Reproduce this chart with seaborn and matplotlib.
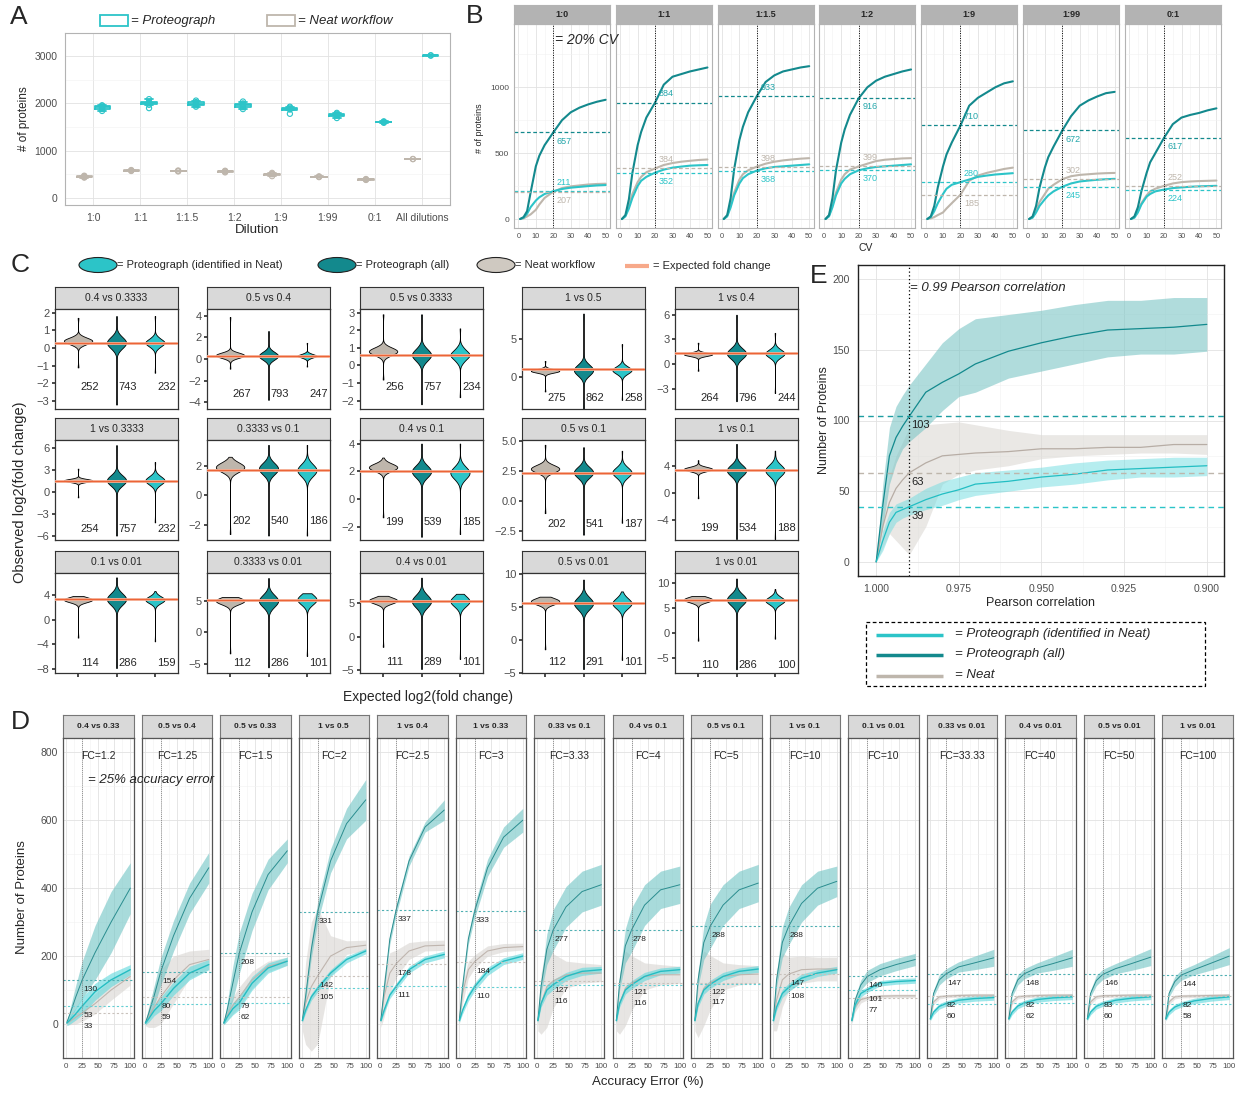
import numpy as np
import pandas as pd
import matplotlib
matplotlib.use("Agg")
import matplotlib.pyplot as plt
import seaborn as sns
from matplotlib.patches import Rectangle, Ellipse
from matplotlib.ticker import MultipleLocator

# ---------------- colours ----------------
ALL_COL = '#13898D'
IDENT_COL = '#2CC4C8'
NEAT_COL = '#BEB6AC'
FC_COL = '#EC6437'

# ---------------- panel A : proteins per dilution ----------------
A_DILUTIONS = ['1:0', '1:1', '1:1.5', '1:2', '1:9', '1:99', '0:1', 'All dilutions']
A_PROTEO = [[1840, 1880, 1905, 1925, 1950, 1960],
            [1900, 1970, 2000, 2010, 2030, 2090],
            [1930, 1960, 1985, 2000, 2030, 2060],
            [1880, 1920, 1950, 1970, 2000, 2040],
            [1780, 1870, 1890, 1910, 1930],
            [1690, 1740, 1760, 1780, 1800],
            [1590, 1600, 1610, 1620],
            [3010, 3020]]
A_NEAT = [[430, 440, 450, 460, 470],
          [570, 580, 590],
          [560, 570, 580],
          [540, 555, 565, 575],
          [460, 500, 510, 530],
          [440, 450, 455],
          [380, 390, 400],
          [820, 825]]

# ---------------- panel B : cumulative proteins vs CV ----------------
B_DIL = ['1:0', '1:1', '1:1.5', '1:2', '1:9', '1:99', '0:1']
B_CV = [1, 3, 5, 7, 10, 12, 15, 20, 25, 30, 35, 40, 45, 50]
B_ALL = [[0, 15, 60, 200, 400, 480, 560, 657, 750, 810, 845, 870, 890, 905],
         [0, 30, 150, 350, 560, 660, 770, 884, 1020, 1080, 1100, 1120, 1135, 1150],
         [0, 30, 160, 380, 600, 700, 810, 933, 1040, 1090, 1120, 1135, 1150, 1160],
         [0, 30, 160, 370, 580, 680, 790, 916, 1000, 1050, 1080, 1100, 1120, 1135],
         [0, 20, 100, 240, 400, 490, 580, 710, 860, 920, 960, 1000, 1030, 1045],
         [0, 20, 100, 240, 390, 470, 550, 672, 780, 860, 900, 930, 955, 965],
         [0, 20, 90, 210, 350, 430, 500, 617, 720, 770, 790, 805, 825, 840]]
B_IDENT = [[0, 10, 40, 90, 140, 165, 190, 211, 228, 238, 244, 250, 255, 258],
           [0, 20, 80, 160, 250, 290, 320, 352, 375, 390, 398, 405, 408, 410],
           [0, 20, 90, 180, 270, 310, 340, 368, 385, 395, 400, 405, 410, 415],
           [0, 20, 90, 180, 270, 305, 340, 370, 385, 395, 400, 405, 410, 415],
           [0, 15, 60, 120, 190, 230, 260, 280, 300, 320, 330, 338, 343, 348],
           [0, 10, 50, 100, 150, 180, 210, 245, 270, 285, 292, 298, 302, 305],
           [0, 10, 50, 110, 170, 190, 210, 224, 235, 240, 245, 248, 250, 252]]
B_NEAT = [[0, 5, 20, 35, 70, 110, 160, 207, 235, 248, 255, 262, 266, 268],
          [0, 25, 100, 190, 280, 320, 355, 384, 410, 425, 435, 442, 448, 452],
          [0, 25, 110, 200, 300, 340, 370, 398, 420, 435, 445, 452, 458, 462],
          [0, 25, 110, 200, 300, 340, 375, 399, 420, 440, 450, 455, 460, 462],
          [0, 5, 15, 30, 50, 80, 120, 185, 290, 330, 350, 365, 380, 390],
          [0, 15, 70, 130, 190, 230, 260, 302, 325, 335, 340, 345, 348, 350],
          [0, 15, 60, 120, 180, 210, 230, 252, 270, 280, 285, 288, 290, 292]]
B_CUT_ALL = [657, 884, 933, 916, 710, 672, 617]
B_CUT_IDENT = [211, 352, 368, 370, 280, 245, 224]
B_CUT_NEAT = [207, 384, 398, 399, 185, 302, 252]
B_SIDE_ALL = [-1, 1, 1, -1, 1, -1, -1]
B_SIDE_IDENT = [1, -1, -1, -1, 1, -1, -1]
B_SIDE_NEAT = [-1, 1, 1, 1, -1, 1, 1]

# ---------------- panel C : observed vs expected log2 FC ----------------
C_PAIRS = ['0.4 vs 0.3333', '0.5 vs 0.4', '0.5 vs 0.3333', '1 vs 0.5', '1 vs 0.4',
           '1 vs 0.3333', '0.3333 vs 0.1', '0.4 vs 0.1', '0.5 vs 0.1', '1 vs 0.1',
           '0.1 vs 0.01', '0.3333 vs 0.01', '0.4 vs 0.01', '0.5 vs 0.01', '1 vs 0.01']
C_EXPECTED = [0.26, 0.32, 0.58, 1.0, 1.32, 1.58, 1.74, 2.0, 2.32, 3.32, 3.32, 5.06, 5.32, 5.64, 6.64]
C_NEAT_LO = [-1.1, -0.9, -0.8, -1.9, -0.8, -0.7, -2.6, -1.3, -1.0, -0.8, -2.9, -3.3, -1.5, -1.4, -1.5]
C_NEAT_MODE = [0.4, 0.35, 0.8, 0.8, 1.2, 1.6, 1.9, 2.3, 2.7, 3.5, 3.2, 5.0, 5.4, 5.9, 6.7]
C_NEAT_HI = [1.7, 3.9, 2.9, 2.1, 2.6, 3.2, 2.6, 3.0, 4.7, 4.8, 3.8, 5.6, 6.1, 6.6, 7.4]
C_NEAT_BODY = [0.2, 0.1, 0.2, 0.2, 0.2, 0.15, 0.2, 0.2, 0.25, 0.2, 0.2, 0.25, 0.25, 0.25, 0.25]
C_ALL_LO = [-3.2, -3.8, -2.2, -4.2, -4.5, -5.9, -2.7, -2.7, -2.8, -6.8, -7.8, -5.5, -4.8, -4.4, -7.2]
C_ALL_MODE = [0.3, 0.3, 0.6, 0.9, 1.3, 1.6, 1.8, 2.0, 2.4, 3.3, 3.3, 5.0, 5.3, 5.6, 6.7]
C_ALL_HI = [1.8, 2.6, 2.9, 8.3, 6.0, 6.4, 3.4, 4.0, 4.5, 7.2, 6.8, 8.6, 8.8, 9.2, 10.9]
C_ALL_BODY = [0.3, 0.3, 0.35, 0.6, 0.6, 0.6, 0.35, 0.4, 0.4, 0.6, 0.8, 0.9, 0.9, 0.9, 0.9]
C_IDENT_LO = [-1.4, -0.7, -1.8, -3.0, -3.5, -4.1, -2.7, -2.5, -1.8, -6.8, -3.5, -3.7, -3.3, -3.0, -1.1]
C_IDENT_MODE = [0.3, 0.3, 0.6, 0.9, 1.3, 1.6, 1.7, 1.9, 2.4, 3.3, 3.2, 5.2, 5.3, 5.6, 6.5]
C_IDENT_HI = [1.8, 1.5, 2.1, 4.3, 3.8, 4.1, 3.4, 4.0, 4.2, 6.2, 4.6, 6.2, 6.4, 7.4, 8.8]
C_IDENT_BODY = [0.25, 0.2, 0.35, 0.5, 0.5, 0.6, 0.4, 0.45, 0.45, 0.7, 0.5, 0.8, 0.8, 0.8, 0.8]
C_N_NEAT = [252, 267, 256, 275, 264, 254, 202, 199, 202, 199, 114, 112, 111, 112, 110]
C_N_ALL = [743, 793, 757, 862, 796, 757, 540, 539, 541, 534, 286, 286, 289, 291, 286]
C_N_IDENT = [232, 247, 234, 258, 244, 232, 186, 185, 187, 188, 159, 101, 101, 101, 100]
C_YLIM = [(-3.45, 2.2), (-4.65, 4.65), (-2.47, 3.2), (-4.2, 8.9), (-5.45, 6.7),
          (-6.5, 7.1), (-3.0, 3.73), (-2.93, 4.26), (-3.24, 5.1), (-6.94, 7.77),
          (-8.6, 7.5), (-6.4, 9.4), (-5.4, 9.5), (-5.0, 10.2), (-7.95, 12.0)]
C_YTICKS = [[-3, -2, -1, 0, 1, 2], [-4, -2, 0, 2, 4], [-2, -1, 0, 1, 2, 3], [0, 5], [-3, 0, 3, 6],
            [-6, -3, 0, 3, 6], [-2, 0, 2], [-2, 0, 2, 4], [-2.5, 0, 2.5, 5], [-4, 0, 4],
            [-8, -4, 0, 4], [-5, 0, 5], [-5, 0, 5], [-5, 0, 5, 10], [-5, 0, 5, 10]]
C_COUNT_Y = [-2.2, -3.3, -1.2, -2.8, -4.15, -5.0, -1.73, -1.67, -1.87, -5.24,
             -7.0, -4.8, -3.75, -3.3, -6.4]

# ---------------- panel E : proteins vs Pearson correlation ----------------
E_R = [1.000, 0.998, 0.996, 0.994, 0.992, 0.990, 0.985, 0.980, 0.975, 0.970,
       0.960, 0.950, 0.940, 0.930, 0.920, 0.910, 0.900]
E_ALL = [0, 40, 75, 88, 96, 103, 120, 127, 133, 140, 149, 155, 160, 164, 165, 166, 168]
E_ALL_LO = [0, 25, 55, 70, 80, 85, 95, 107, 117, 120, 130, 135, 140, 145, 147, 147, 149]
E_ALL_HI = [0, 55, 95, 110, 118, 125, 140, 155, 165, 172, 175, 178, 182, 185, 185, 187, 187]
E_NEAT = [0, 25, 42, 52, 58, 63, 70, 75, 76, 77, 78, 80, 80, 81, 81, 83, 83]
E_NEAT_LO = [0, 10, 20, 15, 10, 5, 25, 55, 62, 65, 68, 73, 75, 76, 77, 77, 76]
E_NEAT_HI = [0, 40, 60, 75, 85, 95, 97, 98, 99, 97, 93, 90, 90, 90, 90, 90, 90]
E_IDENT = [0, 15, 28, 35, 37, 39, 44, 48, 51, 55, 57, 60, 62, 65, 66, 67, 68]
E_IDENT_LO = [0, 8, 20, 28, 31, 33, 37, 40, 44, 47, 50, 53, 55, 58, 60, 60, 61]
E_IDENT_HI = [0, 22, 35, 41, 43, 45, 52, 57, 60, 63, 65, 67, 70, 72, 73, 74, 74]
E_CUTS = [103, 63, 39]

# ---------------- panel D : proteins vs accuracy error ----------------
D_PAIRS = ['0.4 vs 0.33', '0.5 vs 0.4', '0.5 vs 0.33', '1 vs 0.5', '1 vs 0.4', '1 vs 0.33',
           '0.33 vs 0.1', '0.4 vs 0.1', '0.5 vs 0.1', '1 vs 0.1', '0.1 vs 0.01', '0.33 vs 0.01',
           '0.4 vs 0.01', '0.5 vs 0.01', '1 vs 0.01']
D_FC = ['1.2', '1.25', '1.5', '2', '2.5', '3', '3.33', '4', '5', '10', '10', '33.33', '40', '50', '100']
D_ERR = [1, 6, 15, 25, 45, 70, 100]
D_ALL = [[5, 30, 80, 130, 210, 300, 400], [3, 30, 85, 154, 260, 370, 460],
         [3, 40, 120, 208, 330, 440, 510], [10, 80, 220, 331, 480, 590, 660],
         [10, 100, 250, 337, 480, 580, 630], [10, 110, 250, 333, 460, 550, 600],
         [10, 110, 220, 277, 345, 390, 410], [10, 120, 230, 278, 350, 395, 410],
         [10, 130, 240, 288, 350, 395, 415], [10, 130, 240, 288, 355, 400, 420],
         [10, 70, 115, 140, 160, 175, 190], [15, 90, 130, 147, 168, 180, 195],
         [15, 90, 130, 148, 165, 178, 195], [15, 90, 128, 146, 163, 178, 197],
         [15, 90, 125, 144, 160, 178, 200]]
D_ALL_HW = [[5, 15, 35, 55, 80, 90, 75], [5, 15, 30, 40, 45, 45, 45],
            [5, 20, 50, 60, 55, 45, 35], [5, 15, 25, 30, 35, 45, 60],
            [5, 10, 15, 15, 15, 15, 30], [5, 10, 15, 20, 25, 30, 35],
            [10, 20, 45, 60, 60, 60, 60], [10, 20, 50, 65, 60, 55, 55],
            [10, 20, 50, 65, 60, 55, 55], [10, 20, 45, 55, 55, 50, 45],
            [5, 10, 15, 18, 18, 18, 18], [5, 10, 15, 15, 15, 20, 25],
            [5, 10, 15, 15, 15, 20, 25], [5, 10, 15, 15, 15, 20, 25],
            [5, 10, 15, 15, 15, 20, 25]]
D_NEAT = [[2, 8, 20, 33, 60, 100, 140], [3, 20, 50, 80, 130, 175, 190],
          [3, 25, 55, 79, 130, 170, 185], [10, 60, 110, 142, 200, 225, 232],
          [10, 80, 150, 178, 215, 230, 232], [10, 90, 160, 184, 215, 225, 228],
          [10, 60, 110, 127, 145, 150, 150], [10, 60, 105, 121, 140, 145, 145],
          [10, 60, 105, 122, 140, 145, 147], [10, 70, 130, 147, 160, 162, 162],
          [10, 50, 72, 77, 82, 83, 83], [15, 65, 80, 82, 84, 85, 85],
          [15, 65, 80, 82, 84, 85, 85], [15, 65, 80, 83, 84, 85, 85],
          [15, 65, 80, 82, 83, 84, 85]]
D_NEAT_HW = [[5, 10, 20, 25, 30, 30, 25], [8, 30, 60, 80, 70, 40, 30],
             [5, 15, 25, 30, 25, 15, 12], [30, 120, 190, 200, 60, 20, 15],
             [20, 60, 60, 40, 25, 15, 15], [10, 30, 25, 20, 15, 12, 10],
             [30, 90, 120, 80, 40, 30, 25], [30, 90, 110, 80, 40, 30, 25],
             [30, 100, 110, 80, 40, 30, 25], [30, 90, 80, 50, 40, 35, 35],
             [10, 15, 10, 6, 5, 5, 5], [5, 8, 6, 5, 5, 5, 5],
             [5, 8, 6, 5, 5, 5, 5], [5, 8, 6, 5, 5, 5, 5],
             [5, 8, 6, 5, 5, 5, 5]]
D_IDENT = [[3, 12, 30, 53, 95, 130, 160], [3, 15, 40, 59, 105, 150, 175],
           [3, 20, 45, 62, 120, 165, 185], [10, 40, 80, 105, 150, 190, 215],
           [10, 40, 85, 111, 160, 190, 205], [10, 40, 80, 110, 155, 185, 200],
           [10, 60, 100, 116, 140, 155, 160], [10, 60, 100, 116, 140, 155, 160],
           [10, 60, 100, 117, 140, 155, 162], [10, 50, 90, 108, 135, 150, 160],
           [10, 55, 90, 101, 120, 125, 128], [15, 35, 52, 60, 70, 75, 78],
           [15, 35, 53, 62, 72, 77, 80], [15, 35, 52, 60, 70, 76, 80],
           [15, 35, 50, 58, 68, 75, 80]]
D_IDENT_HW = [[8, 12, 18, 25, 25, 20, 15], [5, 10, 15, 20, 20, 20, 15],
              [5, 12, 18, 20, 20, 15, 12], [5, 8, 10, 10, 10, 10, 8],
              [5, 8, 10, 10, 10, 10, 10], [5, 10, 12, 12, 12, 10, 10],
              [5, 10, 15, 15, 12, 12, 10], [5, 10, 12, 12, 12, 10, 10],
              [5, 10, 12, 12, 12, 10, 10], [5, 10, 12, 12, 12, 10, 10],
              [5, 10, 10, 8, 8, 8, 8], [5, 8, 8, 8, 8, 8, 8],
              [5, 8, 8, 8, 8, 8, 8], [5, 8, 8, 8, 8, 8, 8],
              [5, 8, 8, 8, 8, 8, 8]]
D_CUT_ALL = [130, 154, 208, 331, 337, 333, 277, 278, 288, 288, 140, 147, 148, 146, 144]
D_CUT_NEAT = [33, 80, 79, 142, 178, 184, 127, 121, 122, 147, 77, 82, 82, 83, 82]
D_CUT_IDENT = [53, 59, 62, 105, 111, 110, 116, 116, 117, 108, 101, 60, 62, 60, 58]

# =====================================================================
sns.set_theme(style="white")
plt.rcParams['font.family'] = ['Liberation Sans', 'DejaVu Sans']
NARROW = ['Liberation Sans Narrow', 'Liberation Sans', 'DejaVu Sans']

W, H = 1236, 1093
fig = plt.figure(figsize=(W / 100, H / 100), dpi=100)


def px_axes(l, t, r, b):
    return fig.add_axes([l / W, 1 - b / H, (r - l) / W, (b - t) / H])


def strip(l, t, r, b, label, fc, ec, size, bold=False, family=None):
    sa = px_axes(l, t, r, b)
    sa.set_facecolor(fc)
    sa.set_xticks([])
    sa.set_yticks([])
    for s in sa.spines.values():
        s.set_color(ec)
        s.set_linewidth(0.8)
    sa.text(0.5, 0.5, label, ha='center', va='center', fontsize=size,
            fontweight='bold' if bold else 'normal', transform=sa.transAxes,
            family=family if family else plt.rcParams['font.family'])
    return sa


def light_axes(ax, edge='#B3B3B3', lw=0.8):
    ax.set_facecolor('white')
    for s in ax.spines.values():
        s.set_visible(True)
        s.set_color(edge)
        s.set_linewidth(lw)
    ax.grid(True, which='major', color='#E2E2E2', lw=0.6)
    ax.grid(True, which='minor', color='#F1F1F1', lw=0.4)
    ax.set_axisbelow(True)


# ---------------- A ----------------
axA = px_axes(65, 33, 450, 205)
rows = []
for d, vals in zip(A_DILUTIONS, A_PROTEO):
    rows += [(d, 'Proteograph', v) for v in vals]
for d, vals in zip(A_DILUTIONS, A_NEAT):
    rows += [(d, 'Neat', v) for v in vals]
dfA = pd.DataFrame(rows, columns=['dil', 'method', 'n'])
sns.boxplot(data=dfA, x='dil', y='n', hue='method', order=A_DILUTIONS,
            hue_order=['Neat', 'Proteograph'],
            palette={'Neat': NEAT_COL, 'Proteograph': IDENT_COL},
            fill=False, width=0.76, gap=0.15, linewidth=1.3, showfliers=False,
            legend=False, ax=axA)
for i in range(len(A_DILUTIONS)):
    axA.scatter([i + 0.19] * len(A_PROTEO[i]), A_PROTEO[i], s=14, facecolors='none',
                edgecolors=IDENT_COL, lw=0.8, zorder=3)
    axA.scatter([i - 0.19] * len(A_NEAT[i]), A_NEAT[i], s=14, facecolors='none',
                edgecolors=NEAT_COL, lw=0.8, zorder=3)
light_axes(axA)
axA.set_xlim(-0.6, 7.6)
axA.set_ylim(-150, 3490)
axA.set_yticks([0, 1000, 2000, 3000])
axA.yaxis.set_minor_locator(MultipleLocator(500))
axA.tick_params(axis='both', labelsize=7.5, labelcolor='#4D4D4D', length=2, color='#B3B3B3')
axA.set_xlabel('Dilution', fontsize=9.5, labelpad=1)
axA.set_ylabel('# of proteins', fontsize=8.5, labelpad=3)

# ---------------- B ----------------
for i, dil in enumerate(B_DIL):
    l = 514 + i * 101.8
    ax = px_axes(l, 24, l + 96, 228)
    strip(l, 5, l + 96, 24, dil, '#B3B3B3', '#B3B3B3', 6.5, bold=True)
    light_axes(ax)
    for vals, col in [(B_NEAT[i], NEAT_COL), (B_IDENT[i], IDENT_COL), (B_ALL[i], ALL_COL)]:
        sns.lineplot(x=B_CV, y=vals, color=col, lw=1.5, ax=ax)
    for cut, side, lcol, tcol in [(B_CUT_ALL[i], B_SIDE_ALL[i], ALL_COL, '#23A6AA'),
                                  (B_CUT_IDENT[i], B_SIDE_IDENT[i], IDENT_COL, IDENT_COL),
                                  (B_CUT_NEAT[i], B_SIDE_NEAT[i], NEAT_COL, NEAT_COL)]:
        ax.axhline(cut, color=lcol, lw=0.9, ls=(0, (3, 2)))
        ax.text(22, cut + 65 * side, str(cut), color=tcol, fontsize=6.5, ha='left', va='center')
    ax.axvline(20, color='black', ls=(0, (1, 1.5)), lw=0.7)
    ax.set_xlim(-2.5, 52.5)
    ax.set_ylim(-68, 1480)
    ax.set_xticks(range(0, 51, 10))
    ax.xaxis.set_minor_locator(MultipleLocator(5))
    ax.set_yticks([0, 500, 1000])
    ax.yaxis.set_minor_locator(MultipleLocator(250))
    ax.tick_params(axis='both', labelsize=5.3, labelcolor='#4D4D4D', length=2,
                   color='#B3B3B3', pad=1.5)
    ax.set_xlabel('')
    ax.set_ylabel('')
    if i > 0:
        ax.tick_params(axis='y', labelleft=False, length=0)
    else:
        ax.tick_params(axis='y', labelsize=6)

# ---------------- C ----------------
C_ORDER = ['Neat', 'All', 'Ident']
C_PAL = {'Neat': NEAT_COL, 'All': ALL_COL, 'Ident': IDENT_COL}
C_LEFT = [55, 207, 360, 522, 675]
C_TOP = [287, 418, 551]


def violin_sample(lo, mode, hi, body):
    return [lo, hi] + [mode] * 30 + [mode - body, mode + body] * 10


for k, pair in enumerate(C_PAIRS):
    r, c = divmod(k, 5)
    l, t = C_LEFT[c], C_TOP[r]
    strip(l, t, l + 123, t + 22, pair, '#D9D9D9', '#333333', 7.5, family=NARROW)
    ax = px_axes(l, t + 22, l + 123, t + 122)
    for names, wid in [(['Neat'], 0.74), (['All', 'Ident'], 0.5)]:
        vals, grp = [], []
        for name, lo, mo, hi, bd in [
                ('Neat', C_NEAT_LO[k], C_NEAT_MODE[k], C_NEAT_HI[k], C_NEAT_BODY[k]),
                ('All', C_ALL_LO[k], C_ALL_MODE[k], C_ALL_HI[k], C_ALL_BODY[k]),
                ('Ident', C_IDENT_LO[k], C_IDENT_MODE[k], C_IDENT_HI[k], C_IDENT_BODY[k])]:
            if name not in names:
                continue
            s = violin_sample(lo, mo, hi, bd)
            vals += s
            grp += [name] * len(s)
        dfC = pd.DataFrame({'grp': grp, 'val': vals})
        sns.violinplot(data=dfC, x='grp', y='val', hue='grp', order=C_ORDER, hue_order=names,
                       palette=C_PAL, cut=0, inner=None, density_norm='width', width=wid,
                       dodge=False, linewidth=0.6, linecolor='black', saturation=1,
                       legend=False, ax=ax)
    ax.axhline(C_EXPECTED[k], color='#F7B49A', lw=2.0, zorder=5)
    ax.axhline(C_EXPECTED[k], color=FC_COL, lw=0.9, zorder=6)
    for j, n in enumerate([C_N_NEAT[k], C_N_ALL[k], C_N_IDENT[k]]):
        ax.text(j + 0.3, C_COUNT_Y[k], str(n), ha='center', va='center', fontsize=8,
                family=NARROW, zorder=7)
    ax.set_xlim(-0.6, 2.6)
    ax.set_ylim(*C_YLIM[k])
    ticks = C_YTICKS[k]
    ax.set_yticks(ticks)
    if any(float(v) != int(v) for v in ticks):
        ax.set_yticklabels([f'{v:.1f}'.replace('-', '\u2212') for v in ticks])
    else:
        ax.set_yticklabels([f'{int(v)}'.replace('-', '\u2212') for v in ticks])
    ax.tick_params(axis='y', labelsize=8, labelcolor='#4D4D4D', length=2.5,
                   color='#333333', pad=1.5, left=True)
    for lab in ax.get_yticklabels():
        lab.set_family(NARROW)
    if r == 2:
        ax.tick_params(axis='x', labelbottom=False, length=3, color='#333333', bottom=True)
    else:
        ax.tick_params(axis='x', labelbottom=False, length=0)
    for s in ax.spines.values():
        s.set_visible(True)
        s.set_color('#333333')
        s.set_linewidth(0.9)
    ax.set_xlabel('')
    ax.set_ylabel('')

# ---------------- E ----------------
axE = px_axes(858, 265, 1224, 576)
axE.fill_between(E_R, E_NEAT_LO, E_NEAT_HI, color='#DCD9D5', alpha=0.6, lw=0)
axE.fill_between(E_R, E_ALL_LO, E_ALL_HI, color='#7CC6C6', alpha=0.6, lw=0)
axE.fill_between(E_R, E_IDENT_LO, E_IDENT_HI, color='#6FDCE0', alpha=0.5, lw=0)
sns.lineplot(x=E_R, y=E_NEAT, color='#B7ADA5', lw=0.9, ax=axE)
sns.lineplot(x=E_R, y=E_ALL, color='#12898D', lw=0.9, ax=axE)
sns.lineplot(x=E_R, y=E_IDENT, color='#22BEC3', lw=0.9, ax=axE)
for cut, col in zip(E_CUTS, ['#1C9DA1', NEAT_COL, IDENT_COL]):
    axE.axhline(cut, color=col, lw=1.0, ls=(0, (4, 3)))
    axE.text(0.9893, cut - 3, str(cut), fontsize=8, ha='left', va='top', color='#222222')
axE.axvline(0.99, color='black', ls=(0, (1, 2)), lw=0.9)
light_axes(axE, edge='#222222', lw=1.0)
axE.set_xlim(1.0055, 0.8948)
axE.set_ylim(-10, 210)
axE.set_xticks([1.0, 0.975, 0.95, 0.925, 0.9])
axE.set_xticklabels(['1.000', '0.975', '0.950', '0.925', '0.900'])
axE.xaxis.set_minor_locator(MultipleLocator(0.0125))
axE.set_yticks([0, 50, 100, 150, 200])
axE.yaxis.set_minor_locator(MultipleLocator(25))
axE.tick_params(axis='both', labelsize=7.5, labelcolor='#4D4D4D', length=2.5, color='#333333')
axE.set_xlabel('Pearson correlation', fontsize=9, labelpad=2)
axE.set_ylabel('Number of Proteins', fontsize=9, labelpad=2)

# ---------------- D ----------------
for i, pair in enumerate(D_PAIRS):
    l = 63 + i * 78.5
    strip(l, 715, l + 70.5, 738, pair, '#D9D9D9', '#777777', 6, bold=True)
    ax = px_axes(l, 738, l + 70.5, 1058)
    light_axes(ax, edge='#555555', lw=0.9)
    for mean, hw, band in [(D_NEAT[i], D_NEAT_HW[i], '#D8D5D1'),
                           (D_ALL[i], D_ALL_HW[i], '#6FC4C4'),
                           (D_IDENT[i], D_IDENT_HW[i], '#5ED8DC')]:
        m = np.array(mean)
        h = np.array(hw)
        ax.fill_between(D_ERR, m - h, m + h, color=band, alpha=0.6, lw=0)
    for mean, line, lw in [(D_NEAT[i], '#BFB5AE', 0.8), (D_ALL[i], '#2A8D8F', 0.7),
                           (D_IDENT[i], '#25BDC2', 1.0)]:
        sns.lineplot(x=D_ERR, y=mean, color=line, lw=lw, ax=ax)
    for cut, col in [(D_CUT_ALL[i], '#4FAFB2'), (D_CUT_NEAT[i], '#C9C2BC'), (D_CUT_IDENT[i], '#63CFD3')]:
        ax.axhline(cut, color=col, lw=0.8, ls=(0, (2, 2)))
    # labels just under each line, the lower pair stacked so they never collide
    hi_c = max(D_CUT_NEAT[i], D_CUT_IDENT[i])
    lo_c = min(D_CUT_NEAT[i], D_CUT_IDENT[i])
    y_hi = hi_c - 28
    y_lo = min(lo_c - 28, y_hi - 32)
    for val, y in [(D_CUT_ALL[i], D_CUT_ALL[i] - 28), (hi_c, y_hi), (lo_c, y_lo)]:
        ax.text(27, y, str(val), fontsize=6, ha='left', va='center', color='#222222')
    ax.axvline(25, color='#777777', ls=(0, (1, 1.5)), lw=0.6)
    ax.text(50, 790, 'FC=' + D_FC[i], ha='center', va='center', fontsize=7.5)
    ax.set_xlim(-5, 105)
    ax.set_ylim(-100, 842)
    ax.set_xticks([0, 25, 50, 75, 100])
    ax.xaxis.set_minor_locator(MultipleLocator(12.5))
    ax.set_yticks([0, 200, 400, 600, 800])
    ax.yaxis.set_minor_locator(MultipleLocator(100))
    ax.tick_params(axis='both', labelsize=5.8, labelcolor='#4D4D4D', length=2,
                   color='#555555', pad=1.5)
    ax.set_xlabel('')
    ax.set_ylabel('')
    if i > 0:
        ax.tick_params(axis='y', labelleft=False, length=0)
    else:
        ax.tick_params(axis='y', labelsize=7.5)

# ---------------- overlay: panel letters, legends, shared labels ----------------
ov = fig.add_axes([0, 0, 1, 1], zorder=20)
ov.set_xlim(0, W)
ov.set_ylim(H, 0)
ov.axis('off')

for letter, x, y in [('A', 10, 17), ('B', 466, 16), ('C', 11, 265), ('E', 810, 276), ('D', 11, 722)]:
    ov.text(x, y, letter, fontsize=19, ha='left', va='center')

# A legend
ov.add_patch(Rectangle((100, 15), 28, 11, fill=False, ec=IDENT_COL, lw=1.3))
ov.text(131, 21, '= Proteograph', fontsize=9.5, style='italic', va='center')
ov.add_patch(Rectangle((267, 15), 28, 11, fill=False, ec=NEAT_COL, lw=1.3))
ov.text(298, 21, '= Neat workflow', fontsize=9.5, style='italic', va='center')

# B annotations
ov.text(555, 40, '= 20% CV', fontsize=10, style='italic', va='center')
ov.text(866, 248, 'CV', fontsize=7.5, ha='center', va='center')
ov.text(480, 128, '# of proteins', fontsize=6.5, rotation=90, ha='center', va='center')

# C legend and labels
for x, col, lab in [(98, IDENT_COL, '= Proteograph (identified in Neat)'),
                    (337, ALL_COL, '= Proteograph (all)'),
                    (496, '#CFC9C1', '= Neat workflow')]:
    ov.add_patch(Ellipse((x, 265), 38, 15, fc=col, ec='#222222', lw=0.8))
    ov.text(x + 19, 265, lab, fontsize=8, va='center', family=NARROW)
ov.plot([625, 649], [266, 266], color='#F7A98A', lw=3, solid_capstyle='butt')
ov.text(653, 266, '= Expected fold change', fontsize=8, va='center', family=NARROW)
ov.text(428, 697, 'Expected log2(fold change)', fontsize=10, ha='center', va='center', family=NARROW)
ov.text(20, 492, 'Observed log2(fold change)', fontsize=10.5, rotation=90, ha='center', va='center')

# E annotations and legend
ov.text(910, 288, '= 0.99 Pearson correlation', fontsize=9.5, style='italic', va='center')
ov.add_patch(Rectangle((866, 622), 339, 64, fill=False, ec='black', lw=0.9, ls=(0, (3, 2))))
for y, col, lab in [(635, IDENT_COL, '= Proteograph (identified in Neat)'),
                    (655, ALL_COL, '= Proteograph (all)'),
                    (676, '#BEB6AC', '= Neat')]:
    ov.plot([876, 943], [y, y], color=col, lw=2.5, solid_capstyle='butt')
    ov.text(955, y - 1, lab, fontsize=9.5, style='italic', va='center')

# D annotations
ov.text(88, 780, '= 25% accuracy error', fontsize=9.5, style='italic', va='center')
ov.text(648, 1082, 'Accuracy Error (%)', fontsize=9.5, ha='center', va='center')
ov.text(22, 897, 'Number of Proteins', fontsize=9.5, rotation=90, ha='center', va='center')

fig.savefig('out.png', dpi=100)
